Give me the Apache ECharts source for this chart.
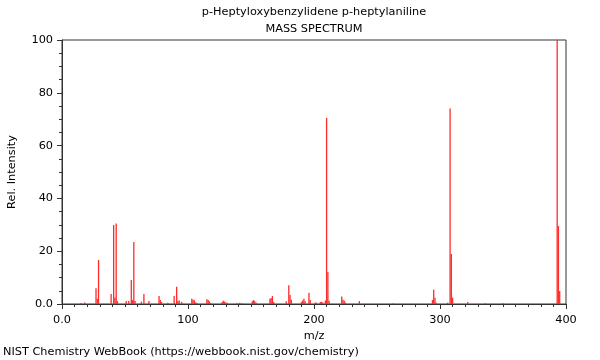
<!DOCTYPE html>
<html>
<head>
<meta charset="utf-8">
<script src="https://cdn.jsdelivr.net/npm/echarts@6/dist/echarts.min.js"></script>
<style>html,body{margin:0;padding:0;background:#fff}#c{width:600px;height:360px}</style>
</head>
<body>
<div id="c"></div>
<script>
const titleText = "p-Heptyloxybenzylidene p-heptylaniline";
const subtitleText = "MASS SPECTRUM";
const footerText = "NIST Chemistry WebBook (https://webbook.nist.gov/chemistry)";
const xName = "m/z";
const yName = "Rel. Intensity";
const mzValues = [15,18,27,28,29,39,41,42,43,44,51,53,55,56,57,58,63,65,69,77,78,79,84,89,91,92,93,95,
  103,104,105,106,107,115,116,117,118,127,128,129,130,131,139,141,143,151,152,153,154,165,166,167,168,
  178,180,181,182,190,191,192,193,196,197,201,202,205,206,207,209,210,211,212,222,223,224,225,236,263,
  294,295,296,297,306,308,309,310,322,336,350,393,394,395];
const intensityValues = [0.4,0.6,6.0,2.0,16.7,3.8,29.9,2.5,30.5,1.1,1.1,1.1,9.1,1.5,23.5,1.1,0.9,3.8,1.1,3.0,1.5,0.8,0.5,3.0,6.5,1.0,1.3,0.8,
  2.0,1.6,1.4,0.6,0.5,1.8,1.5,1.0,0.4,0.8,1.2,0.9,0.6,0.5,0.4,0.5,0.3,1.0,1.5,1.0,0.6,2.0,2.3,3.0,0.8,
  1.0,7.1,3.4,1.6,0.7,1.3,2.0,1.0,4.3,1.5,0.6,0.5,0.8,0.8,0.6,1.3,70.5,12.1,1.2,2.8,1.6,1.2,0.5,1.1,0.3,
  1.5,5.4,2.4,0.5,0.5,74.1,18.9,2.4,0.8,0.3,0.4,100,29.5,4.9];

const font = "DejaVu Sans";
const fs = 11.3;
const chart = echarts.init(document.getElementById('c'), null, {renderer: 'canvas'});
const fmt = v => v === 0 ? '0.0' : String(v);
const ts = {fontFamily: font, fontSize: fs, fontWeight: 'normal', color: '#000'};
chart.setOption({
  animation: false,
  backgroundColor: '#fff',
  title: [
    {text: titleText, left: 314, top: 7, padding: 0, textAlign: 'center', textStyle: ts},
    {text: subtitleText, left: 314, top: 24, padding: 0, textAlign: 'center', textStyle: ts},
    {text: footerText, left: 3, top: 347, padding: 0, textStyle: ts}
  ],
  grid: {left: 62, right: 34, top: 40, bottom: 56, show: true, borderColor: '#333', borderWidth: 1,
         backgroundColor: '#fff', containLabel: false, outerBoundsMode: 'none'},
  xAxis: {
    type: 'value', min: 0, max: 400, interval: 100,
    name: xName, nameLocation: 'middle', nameGap: 25,
    nameTextStyle: {fontFamily: font, fontSize: fs, color: '#000'},
    axisLine: {show: true, onZero: false, lineStyle: {color: '#333', width: 1}},
    axisTick: {show: true, length: 5, lineStyle: {color: '#333'}},
    minorTick: {show: true, splitNumber: 10, length: 3, lineStyle: {color: '#333'}},
    axisLabel: {formatter: fmt, fontFamily: font, fontSize: fs, color: '#000', margin: 11},
    splitLine: {show: false}
  },
  yAxis: {
    type: 'value', min: 0, max: 100, interval: 20,
    name: yName, nameLocation: 'middle', nameGap: 44, nameRotate: 90,
    nameTextStyle: {fontFamily: font, fontSize: fs, color: '#000'},
    axisLine: {show: true, onZero: false, lineStyle: {color: '#333', width: 1}},
    axisTick: {show: true, length: 5, lineStyle: {color: '#333'}},
    minorTick: {show: true, splitNumber: 4, length: 3, lineStyle: {color: '#333'}},
    axisLabel: {formatter: fmt, fontFamily: font, fontSize: fs, color: '#000', margin: 9},
    splitLine: {show: false}
  },
  series: [{
    type: 'bar',
    data: mzValues.map((m, i) => [m, intensityValues[i]]),
    barWidth: 1.3,
    itemStyle: {color: '#ff2a2a'},
    silent: true
  }]
});
</script>
</body>
</html>
